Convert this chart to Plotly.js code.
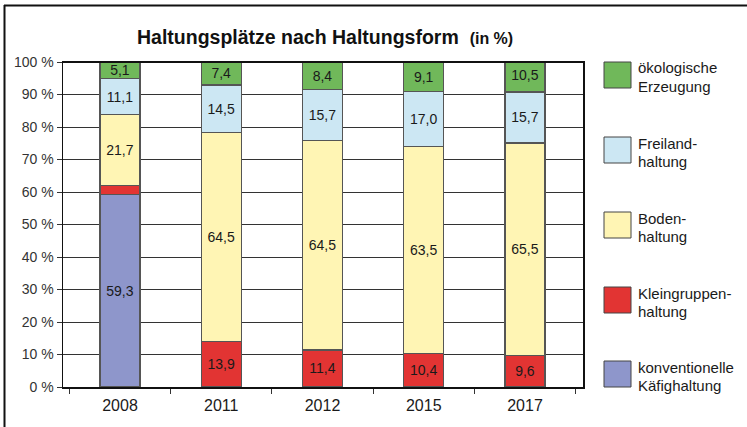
<!DOCTYPE html>
<html>
<head>
<meta charset="utf-8">
<script src="https://cdn.plot.ly/plotly-3.0.1.min.js"></script>
<style>
html,body{margin:0;padding:0;background:#fff;}
#chart{width:747px;height:427px;}
</style>
</head>
<body>
<div id="chart"></div>
<script>
const years = ['2008', '2011', '2012', '2015', '2017'];
const kaefig = [59.3, 0, 0, 0, 0];
const kleingruppen = [2.8, 13.9, 11.4, 10.4, 9.6];
const boden = [21.7, 64.5, 64.5, 63.5, 65.5];
const freiland = [11.1, 14.5, 15.7, 17.0, 15.7];
const oeko = [5.1, 7.4, 8.4, 9.1, 10.5];
const yTickVals = [0, 10, 20, 30, 40, 50, 60, 70, 80, 90, 100];
const yTickText = yTickVals.map(v => v + ' %');

const seriesNames = [['konventionelle', 'Käfighaltung'], ['Kleingruppen-', 'haltung'], ['Boden-', 'haltung'], ['Freiland-', 'haltung'], ['ökologische', 'Erzeugung']];
const seriesValues = [kaefig, kleingruppen, boden, freiland, oeko];
const seriesColors = ['#8E96CB', '#E23433', '#FFF5B4', '#CCE7F3', '#70B85A'];

const FONT = 'Liberation Sans, Arial, sans-serif';
const W = 747, H = 427;
const M = {l: 63, r: 164, t: 62, b: 40};
const pw = W - M.l - M.r, ph = H - M.t - M.b;
const px = x => (x - M.l) / pw;
const py = y => (H - M.b - y) / ph;

const traces = seriesValues.map((vals, i) => ({
  type: 'bar',
  x: years,
  y: vals,
  name: seriesNames[i].join(' '),
  marker: {color: seriesColors[i], line: {color: '#555', width: vals.map(v => v > 0 ? 1.2 : 0)}},
  width: 0.395,
  text: vals.map(v => v >= 4 ? v.toFixed(1).replace('.', ',') : ''),
  textposition: 'inside',
  insidetextanchor: 'middle',
  textangle: 0,
  constraintext: 'none',
  textfont: {family: FONT, size: 14, color: '#1a1a1a'},
  hoverinfo: 'skip',
  showlegend: false
}));

const shapes = [];
const annotations = [];
// outer frame (left and top lines)
shapes.push({type: 'line', xref: 'paper', yref: 'paper', x0: px(4.5), x1: px(4.5), y0: py(5), y1: py(427), line: {color: '#111', width: 2}});
shapes.push({type: 'line', xref: 'paper', yref: 'paper', x0: px(4), x1: px(747), y0: py(5.5), y1: py(5.5), line: {color: '#111', width: 2}});
// thicker top edge of plot area
shapes.push({type: 'line', xref: 'paper', yref: 'paper', x0: 0, x1: 1, y0: 1, y1: 1, line: {color: '#111', width: 2}});

// legend (top to bottom: reversed series order)
const legendTop = [62, 137, 212, 287, 361];
const legendOrder = [4, 3, 2, 1, 0];
legendOrder.forEach((si, k) => {
  const y0 = legendTop[k];
  shapes.push({type: 'rect', xref: 'paper', yref: 'paper',
    x0: px(604), x1: px(631), y0: py(y0), y1: py(y0 + 26),
    fillcolor: seriesColors[si], line: {color: '#444', width: 1}});
  seriesNames[si].forEach((line, j) => {
    annotations.push({xref: 'paper', yref: 'paper', x: px(636), y: py(y0 + 6 + j * 18),
      xanchor: 'left', yanchor: 'middle', align: 'left', showarrow: false,
      text: line, font: {family: FONT, size: 15, color: '#1a1a1a'}});
  });
});

// title
annotations.push({xref: 'paper', yref: 'paper', x: px(325), y: py(37), xanchor: 'center', yanchor: 'middle',
  showarrow: false,
  text: '<b>Haltungsplätze nach Haltungsform</b>\u00a0 <b><span style="font-size:16px">(in\u00a0%)</span></b>',
  font: {family: FONT, size: 19.5, color: '#111'}});

const layout = {
  width: W, height: H,
  margin: M,
  paper_bgcolor: '#fff', plot_bgcolor: '#fff',
  barmode: 'stack',
  separators: ',.',
  showlegend: false,
  xaxis: {
    type: 'category',
    range: [-0.563, 4.573],
    tickson: 'boundaries',
    ticks: 'outside', ticklen: 5, tickcolor: '#333', tickwidth: 1,
    ticklabelstandoff: 3,
    showgrid: false,
    showline: true, linecolor: '#111', linewidth: 1.5,
    mirror: true,
    tickfont: {family: FONT, size: 16, color: '#1a1a1a'},
    fixedrange: true
  },
  yaxis: {
    range: [0, 100],
    tickvals: yTickVals, ticktext: yTickText,
    ticks: 'outside', ticklen: 5, tickcolor: '#333', tickwidth: 1,
    showgrid: true, gridcolor: '#333', gridwidth: 1,
    showline: true, linecolor: '#111', linewidth: 1.5,
    mirror: true,
    zeroline: false,
    tickfont: {family: FONT, size: 14, color: '#333'},
    fixedrange: true
  },
  shapes: shapes,
  annotations: annotations,
  uniformtext: {mode: false}
};

Plotly.newPlot('chart', traces, layout, {staticPlot: true, displayModeBar: false});
</script>
</body>
</html>
